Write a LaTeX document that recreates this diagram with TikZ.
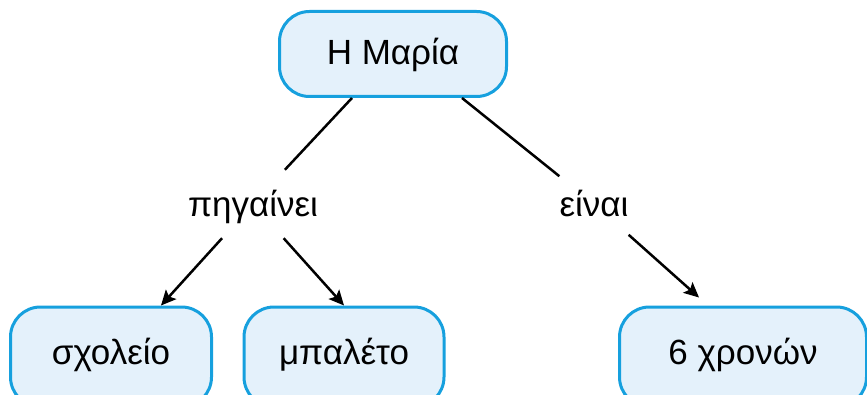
\documentclass[tikz,border=0pt]{standalone}
\usepackage{fontspec}
\setmainfont{Liberation Sans}
\usetikzlibrary{arrows.meta}
\definecolor{boxfill}{RGB}{228,241,251}
\definecolor{boxline}{RGB}{22,160,222}

\begin{document}
\begin{tikzpicture}[x=1pt, y=-1pt,
  concept/.style={rectangle, draw=boxline, fill=boxfill, line width=3pt, rounded corners=30pt, minimum height=85pt, text height=30pt, text depth=8pt, inner sep=0pt, font=\fontsize{35}{42}\selectfont},
  leaf/.style={concept, minimum height=100pt, text height=23pt},
  verb/.style={rectangle, minimum height=68pt, text height=34pt, text depth=8pt, inner sep=0pt, font=\fontsize{35}{42}\selectfont},
  link/.style={draw, line width=2.5pt},
  arrow/.style={link, -{Stealth[length=15pt, width=14pt, inset=3pt]}}
]
\useasboundingbox (0,0) rectangle (867,395);
\node [concept, minimum width=227pt] (maria) at (393,54) {Η Μαρία};
\node [verb, below of=maria, node distance=150pt, xshift=-140pt] (pigainei) {πηγαίνει};
\node [verb, below of=maria, node distance=150pt, xshift=201pt] (einai) {είναι};
\node [leaf, minimum width=201pt, below of=pigainei, node distance=153pt, xshift=-142pt] (sxoleio) {σχολείο};
\node [leaf, minimum width=200pt, below of=pigainei, node distance=153pt, xshift=91pt] (mpaleto) {μπαλέτο};
\node [leaf, minimum width=247pt, below of=einai, node distance=153pt, xshift=149pt] (xronon) {6 χρονών};

\path [link] (maria) -- (pigainei);
\path [link] ([xshift=69pt]maria.south) -- (einai);
\path [arrow] (pigainei) -- ([xshift=50pt]sxoleio.north);
\path [arrow] (pigainei) -- (mpaleto.north);
\path [arrow, shorten >=12pt] (einai) -- ([xshift=-35pt]xronon.north);
\end{tikzpicture}
\end{document}
